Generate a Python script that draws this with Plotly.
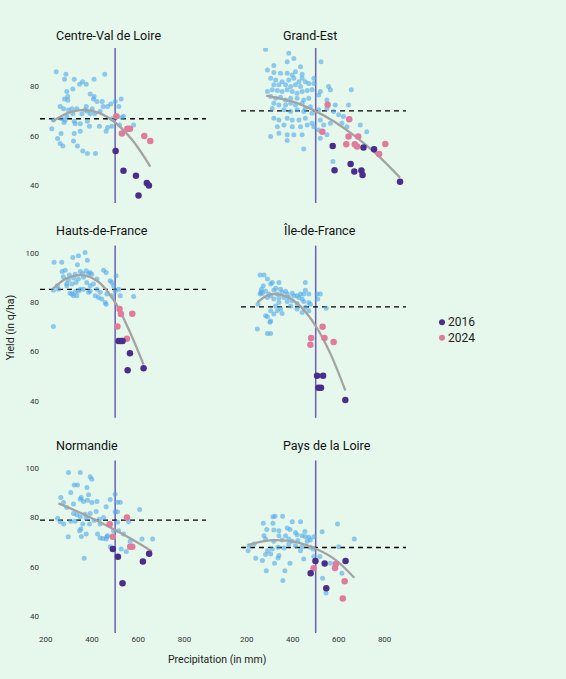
import plotly.graph_objects as go
from plotly.subplots import make_subplots

# regions in reading order (row by row)
regions = ["Centre-Val de Loire", "Grand-Est", "Hauts-de-France",
           "Île-de-France", "Normandie", "Pays de la Loire"]

# mean yield (dashed line) per region, q/ha
mean_yield = [67, 70.2, 85.3, 78.2, 78.9, 67.8]

# reference precipitation threshold (mm)
threshold = 500

# --- Centre-Val de Loire ---
cvl_past = [(245, 86), (287, 85), (281, 83), (323, 83), (346, 81), (359, 82), (375, 81), (409, 83),
            (455, 85), (317, 79), (291, 78), (295, 76), (281, 75), (295, 74.5), (392, 77), (409, 76),
            (406, 75), (421, 74), (444, 74), (448, 72), (467, 72), (481, 73), (526, 75), (500, 74),
            (516, 72), (262, 72), (277, 71), (298, 70.5), (313, 71), (334, 71), (375, 72), (370, 70.5),
            (380, 70), (392, 69), (401, 71), (412, 69), (435, 70), (356, 69), (317, 69), (291, 68),
            (284, 66.5), (279, 65.5), (323, 66), (349, 65), (380, 66), (389, 64), (327, 65), (226, 63),
            (266, 61), (323, 61), (349, 62), (432, 64), (467, 63.5), (461, 62), (486, 64), (519, 64.5),
            (529, 67.5), (536, 68), (580, 64.5), (251, 59), (262, 57), (320, 58), (337, 56), (360, 54),
            (380, 53), (415, 53), (274, 56), (486, 67), (510, 68), (233, 66.5), (269, 67)]
cvl_2016 = [(502, 54), (536, 46), (590, 44), (637, 41), (646, 40), (601, 36)]
cvl_2024 = [(505, 68), (553, 63), (564, 63), (529, 61), (626, 60), (652, 58)]
cvl_fit = [(229, 66), (300, 69.5), (363, 70.6), (430, 69.4), (500, 65.5), (575, 58.3), (652, 47.7)]

# --- Grand-Est ---
ge_past = [(282, 95), (383, 93.5), (405, 91.4), (318, 88.5), (376, 90), (434, 88), (523, 90), (290, 86.7),
           (318, 85.7), (347, 85.4), (376, 85.4), (398, 84.7), (412, 86), (441, 85), (304, 83.4), (326, 82.7),
           (354, 82), (383, 82.7), (405, 83.4), (427, 82), (441, 83.4), (455, 82), (492, 83.4), (318, 80.7),
           (340, 80.7), (369, 80.7), (391, 80), (412, 80.7), (434, 80), (470, 81.3), (492, 81.3), (290, 78),
           (311, 78.7), (333, 78.4), (354, 78), (376, 78.7), (398, 78), (419, 77.3), (441, 78), (463, 78.4),
           (484, 78.7), (520, 78), (556, 80), (564, 78.7), (655, 78.7), (304, 76), (326, 75.3), (347, 75.7),
           (369, 74.6), (391, 75.3), (419, 75.3), (448, 74.6), (470, 75.3), (513, 76.6), (549, 74.6),
           (585, 72.6), (318, 73.3), (340, 72.6), (369, 72.6), (391, 73.3), (412, 72.6), (441, 73.3),
           (477, 71.9), (455, 71.2), (311, 71.2), (362, 70.6), (391, 69.9), (419, 70.6), (448, 69.9),
           (484, 69.2), (513, 70.6), (549, 71.2), (578, 69.9), (643, 72.6), (600, 68.6), (621, 67.9),
           (318, 67.2), (340, 66.5), (376, 67.2), (398, 66.5), (427, 66.5), (455, 67.2), (484, 65.2),
           (520, 66.5), (535, 64.5), (564, 65.2), (614, 65.2), (636, 63.8), (333, 63.8), (362, 64.5),
           (398, 63.8), (434, 63.8), (463, 64.5), (492, 63.8), (513, 62.5), (694, 64.5), (722, 61.8),
           (304, 59.8), (340, 61.1), (376, 60.5), (405, 60.5), (441, 60.5), (376, 58.2), (520, 59.1),
           (549, 60.5), (448, 54.8), (575, 49.7)]
ge_2016 = [(574, 56), (708, 55.4), (754, 54.7), (652, 48.7), (582, 46.2), (668, 45.7), (699, 46.1),
           (704, 44.3), (867, 41.6)]
ge_2024 = [(552, 72.7), (646, 66.8), (529, 61.8), (643, 59.8), (685, 59.8), (633, 56.7), (670, 56.7),
           (680, 55.8), (803, 56.8), (776, 52.8)]
ge_fit = [(285, 76.4), (400, 73.9), (503, 69.9), (580, 65.9), (665, 60.4), (760, 53.1), (867, 43.2)]

# --- Hauts-de-France ---
hdf_past = [(236, 96.3), (269, 96.3), (317, 98.3), (341, 99), (370, 100.3), (380, 97.2), (337, 95.3),
            (271, 92.6), (284, 93.1), (302, 91.2), (327, 91.5), (349, 92.6), (360, 91.8), (375, 92.9),
            (385, 91.8), (392, 92.2), (399, 91.5), (363, 90.2), (341, 89.5), (320, 89.9), (298, 89.1),
            (276, 90.4), (250, 86.8), (255, 85.4), (233, 85), (291, 86.8), (313, 87.5), (331, 88.1),
            (377, 88.1), (392, 86.8), (421, 89.5), (450, 93.1), (461, 92.2), (504, 90.8), (486, 88.1),
            (493, 86.8), (478, 88.8), (500, 84.7), (522, 82.7), (486, 82.7), (464, 83.4), (435, 84.1),
            (421, 85.4), (414, 82.7), (428, 82), (442, 81.4), (457, 80), (461, 79.3), (580, 82.4),
            (515, 85.4), (385, 84.1), (392, 84.7), (313, 83.4), (320, 82.7), (305, 83.7), (334, 82.7),
            (341, 84.5), (233, 70.2), (291, 87.7), (327, 84.3), (363, 85.4), (406, 87.5), (349, 85.4)]
hdf_2016 = [(515, 64.3), (525, 64.3), (532, 64.3), (564, 59.3), (554, 52.4), (623, 53.3)]
hdf_2024 = [(519, 77.3), (525, 75.3), (574, 75.4), (510, 70.2), (551, 65.2)]
hdf_fit = [(229, 85.4), (290, 89.8), (356, 91.1), (430, 88.2), (500, 80), (560, 68.8), (623, 54.7)]

# --- Île-de-France ---
idf_past = [(258, 91.2), (275, 91.2), (290, 89.5), (311, 88.1), (304, 87.5), (272, 86.8), (264, 85.4),
            (258, 83.4), (268, 83.7), (297, 83.4), (318, 85), (326, 85.8), (340, 88.1), (347, 85.4),
            (333, 83.4), (354, 84.1), (369, 84.5), (376, 83.4), (398, 83.7), (405, 82.7), (383, 82),
            (362, 82), (340, 81.8), (318, 81.4), (304, 82.7), (290, 82), (419, 82.7), (434, 83.4),
            (448, 83.4), (455, 85), (455, 88.1), (470, 83.4), (441, 81.4), (427, 82), (448, 80.4),
            (470, 80), (506, 83.4), (520, 83.4), (509, 81.4), (477, 79.3), (455, 78), (441, 75.9),
            (470, 76.6), (340, 80), (326, 78.6), (347, 77.3), (333, 76.6), (354, 75.5), (318, 75.3),
            (304, 76.6), (282, 74.6), (290, 74.2), (304, 72.5), (301, 71.9), (290, 67.4), (304, 67.4),
            (246, 69.2), (419, 79.6), (398, 80.7), (376, 80.4), (546, 77.6), (261, 84.1), (282, 84.7),
            (249, 79.3), (391, 78.6), (419, 77.3)]
idf_2016 = [(506, 50.2), (532, 50.2), (512, 45.3), (523, 45.3), (629, 40.3)]
idf_2024 = [(530, 70.1), (538, 65.5), (480, 65.5), (477, 62.8), (578, 63.9)]
idf_fit = [(246, 80), (290, 82.9), (325, 83.4), (380, 82.1), (434, 78.4), (503, 70), (565, 59), (629, 44.2)]

# --- Normandie ---
nor_past = [(298, 98.2), (349, 98.2), (392, 96.5), (399, 95.5), (323, 93.2), (337, 93.2), (378, 92.1),
            (308, 90.1), (353, 88.1), (385, 89.2), (265, 88.1), (277, 86.1), (320, 85.4), (349, 87.4),
            (363, 86.5), (380, 87), (399, 86.1), (421, 86.5), (479, 87.3), (500, 89.4), (510, 86.2),
            (522, 86.2), (461, 84.3), (500, 82.3), (510, 82.3), (606, 83.2), (291, 84), (320, 81.6),
            (334, 81.1), (349, 80.3), (370, 81.3), (392, 81.6), (418, 82.4), (431, 79.3), (450, 80),
            (409, 78.7), (375, 79.7), (251, 79.7), (262, 78.2), (277, 77.3), (308, 78.4), (327, 78.4),
            (360, 77.3), (389, 77.3), (435, 77.3), (479, 77.3), (510, 78), (558, 78.2), (346, 74.6),
            (352, 75.3), (375, 73.3), (297, 72.2), (354, 72.3), (424, 73.3), (435, 71.6), (447, 71.4),
            (461, 71.2), (467, 72.6), (493, 74.6), (536, 73.3), (565, 70.3), (616, 71.2), (662, 71.2),
            (526, 67.2), (548, 66.2), (366, 63.4), (479, 68.1), (515, 74.6), (464, 72.2)]
nor_2016 = [(490, 67.2), (512, 64), (620, 62.1), (647, 65.3), (532, 53.3)]
nor_2024 = [(551, 80), (476, 77.2), (490, 72.2), (565, 68.1), (574, 68.1)]
nor_fit = [(255, 85.7), (377, 80.7), (500, 74.9), (580, 70.7), (659, 66.2)]

# --- Pays de la Loire ---
pdl_past = [(314, 80.3), (323, 80.5), (356, 80.5), (272, 77.6), (314, 77.6), (398, 78.2), (434, 78.2),
            (287, 75.1), (318, 74.9), (340, 74.6), (376, 75.7), (388, 75.1), (412, 73.9), (453, 74.3),
            (528, 74.2), (595, 77.3), (668, 71.2), (275, 72.6), (340, 72.6), (369, 72.6), (419, 73),
            (441, 72.6), (455, 72.2), (470, 71.9), (492, 72.2), (282, 71.2), (318, 70.3), (354, 70.8),
            (383, 71.2), (398, 70.3), (422, 70.6), (463, 70.3), (477, 70.8), (210, 68.5), (232, 69.2),
            (290, 66.5), (311, 67.2), (336, 67.9), (362, 67.6), (383, 69.2), (412, 68.5), (441, 68.1),
            (477, 67.9), (489, 67.2), (206, 66.5), (282, 64.9), (304, 65.2), (340, 64.5), (336, 63.5),
            (434, 66.5), (239, 63.4), (268, 62.5), (321, 61.4), (388, 61.4), (448, 63.1), (492, 64.1),
            (518, 64.1), (564, 61.4), (600, 68.1), (285, 58.4), (366, 58.4), (357, 54.4), (530, 55.3),
            (545, 49.3), (614, 57.3)]
pdl_2016 = [(499, 62.3), (539, 61.3), (630, 62.3), (478, 57.3), (546, 51.3)]
pdl_2024 = [(491, 59.4), (588, 61.1), (584, 59.5), (626, 54.1), (618, 47.1)]
pdl_fit = [(206, 68.8), (270, 70.3), (333, 70.8), (420, 69.9), (503, 67.2), (585, 62.9), (668, 55.5)]

past_sets = [cvl_past, ge_past, hdf_past, idf_past, nor_past, pdl_past]
sets_2016 = [cvl_2016, ge_2016, hdf_2016, idf_2016, nor_2016, pdl_2016]
sets_2024 = [cvl_2024, ge_2024, hdf_2024, idf_2024, nor_2024, pdl_2024]
fit_sets = [cvl_fit, ge_fit, hdf_fit, idf_fit, nor_fit, pdl_fit]

legend_years = ["2016", "2024"]

x_ticks = [200, 400, 600, 800]
y_ticks = [40, 60, 80, 100]

BG = "#e6f8ec"
C_PAST = "#50a8ea"
C_2016 = "#4b2d8c"
C_2024 = "#e07b9b"
C_THRESH = "#6b5fb5"
FONT = "Roboto"

fig = make_subplots(rows=3, cols=2)

def xs(pts):
    return [p[0] for p in pts]

def ys(pts):
    return [p[1] for p in pts]

for i, name in enumerate(regions):
    r, c = i // 2 + 1, i % 2 + 1
    fig.add_trace(go.Scatter(x=xs(past_sets[i]), y=ys(past_sets[i]), mode="markers",
                             marker=dict(size=5, color=C_PAST, opacity=0.6),
                             showlegend=False, hoverinfo="skip"), row=r, col=c)
    fig.add_trace(go.Scatter(x=xs(fit_sets[i]), y=ys(fit_sets[i]), mode="lines",
                             line=dict(color="#a3a3a3", width=2.3, shape="spline"),
                             showlegend=False, hoverinfo="skip"), row=r, col=c)
    fig.add_trace(go.Scatter(x=xs(sets_2024[i]), y=ys(sets_2024[i]), mode="markers", name="2024",
                             marker=dict(size=6.5, color=C_2024), showlegend=False), row=r, col=c)
    fig.add_trace(go.Scatter(x=xs(sets_2016[i]), y=ys(sets_2016[i]), mode="markers", name="2016",
                             marker=dict(size=6.5, color=C_2016), showlegend=False), row=r, col=c)
    fig.add_vline(x=threshold, line=dict(color=C_THRESH, width=1.5), layer="below", row=r, col=c)
    fig.add_hline(y=mean_yield[i], line=dict(color="black", width=1.3, dash="5px,4px"),
                  layer="below", row=r, col=c)

# panel geometry (fractions of the plotting area)
col_domains = [[0, 0.4536], [0.5492, 1]]
row_domains = [[0.7352, 1.0], [0.3678, 0.6622], [0, 0.2949]]
row_ranges = [[33, 95.6], [33.1, 103.1], [33.1, 103.1]]

for r in range(3):
    for c in range(2):
        fig.update_xaxes(domain=col_domains[c], range=[175, 893], tickvals=x_ticks,
                         showticklabels=(r == 2), showgrid=False, zeroline=False,
                         showline=False, ticks="", tickfont=dict(size=8, color="#333"),
                         row=r + 1, col=c + 1)
        fig.update_yaxes(domain=row_domains[r], range=row_ranges[r], tickvals=y_ticks,
                         showticklabels=(c == 0), showgrid=False, zeroline=False,
                         showline=False, ticks="", tickfont=dict(size=8, color="#333"),
                         row=r + 1, col=c + 1)

# panel titles
title_x = [0.0383, 0.6585]
title_y = [1.021, 0.6873, 0.3205]
for i, name in enumerate(regions):
    fig.add_annotation(text=name, x=title_x[i % 2], y=title_y[i // 2], xref="paper", yref="paper",
                       xanchor="left", yanchor="middle", showarrow=False,
                       font=dict(size=12.5, color="#111"))

fig.add_annotation(text="Precipitation (in mm)", x=0.4828, y=-0.0456, xref="paper", yref="paper",
                   xanchor="center", yanchor="middle", showarrow=False,
                   font=dict(size=10.5, color="#222"))
fig.add_annotation(text="Yield (in q/ha)", x=-0.082, y=0.5225, xref="paper", yref="paper",
                   xanchor="center", yanchor="middle", textangle=-90, showarrow=False,
                   font=dict(size=10.5, color="#222"))

# hand-made legend: dot + label
legend_colors = [C_2016, C_2024]
legend_y = [0.5313, 0.5047]
for lab, col, ly in zip(legend_years, legend_colors, legend_y):
    fig.add_shape(type="circle", xref="paper", yref="paper", xsizemode="pixel", ysizemode="pixel",
                  xanchor=1.0984, yanchor=ly, x0=-3, x1=3, y0=-3, y1=3,
                  fillcolor=col, line=dict(width=0))
    fig.add_annotation(text=lab, x=1.1085, y=ly, xref="paper", yref="paper",
                       xanchor="left", yanchor="middle", showarrow=False,
                       font=dict(size=12, color="#222"))

fig.update_layout(
    width=566, height=679,
    margin=dict(l=40, r=160, t=48, b=46),
    paper_bgcolor=BG, plot_bgcolor=BG,
    font=dict(family=FONT, color="#222"),
    showlegend=False,
)

fig.write_html("out.html", config={"displayModeBar": False},
               post_script="document.body.style.margin='0';document.body.style.overflow='hidden';")
